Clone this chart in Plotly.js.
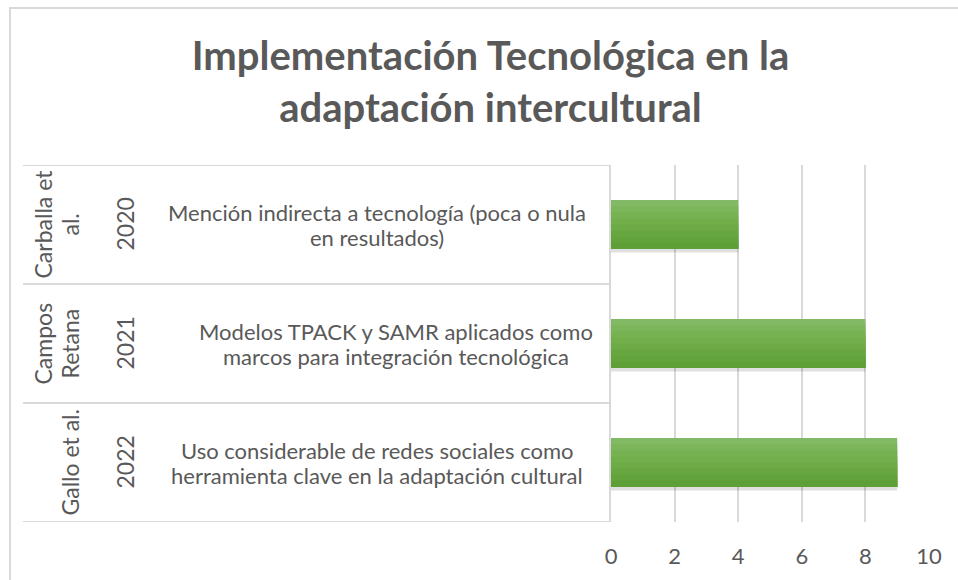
<!DOCTYPE html>
<html>
<head>
<meta charset="utf-8">
<script src="https://cdn.plot.ly/plotly-3.0.1.min.js"></script>
<style>
  html, body { margin: 0; padding: 0; background: #fff; }
  #wrap { position: relative; width: 958px; height: 580px; overflow: hidden; }
  #chart { width: 958px; height: 580px; }
  #frame { position: absolute; left: 9px; top: 7px; width: 1000px; height: 1000px;
           border-left: 2px solid #d9d9d9; border-top: 2px solid #d9d9d9; pointer-events: none; }
</style>
</head>
<body>
<div id="wrap">
  <div id="chart"></div>
  <div id="frame"></div>
</div>
<script>
// ---- data ----
const authors = ["Carballa et<br>al.", "Campos<br>Retana", "Gallo et al."];
const years = ["2020", "2021", "2022"];
const descriptions = [
  "Mención indirecta a tecnología (poca o nula<br>en resultados)",
  "Modelos TPACK y SAMR aplicados como<br>marcos para integración tecnológica",
  "Uso considerable de redes sociales como<br>herramienta clave en la adaptación cultural"
];
const values = [4, 8, 9];
const xTicks = [0, 2, 4, 6, 8, 10];

// ---- styling ----
const textColor = "#595959";
const gridColor = "#d9d9d9";
const font = "Lato, 'Open Sans', sans-serif";
const idx = values.map((v, i) => i);

const barW = 0.41;
const stripColors = ["#82b964", "#7cb65b", "#76b252", "#71af4a", "#6cab45", "#68a740", "#63a33b", "#5f9f37"];
const strips = stripColors.length;

const traces = [];
// soft shadow under the bars
traces.push({
  type: "bar", orientation: "h", x: values, y: idx,
  width: barW, offset: -barW / 2 + 0.03,
  marker: { color: "rgba(0,0,0,0.12)", line: { width: 0 } },
  hoverinfo: "skip", showlegend: false
});
// vertical gradient built from nested overlaid layers (no seams)
for (let k = 0; k < strips; k++) {
  const w = barW / strips;
  traces.push({
    type: "bar", orientation: "h", x: values, y: idx,
    width: barW - k * w, offset: -barW / 2 + k * w,
    marker: { color: stripColors[k], line: { width: 0 } },
    hoverinfo: k === 0 ? "x" : "skip", showlegend: false
  });
}

// left category table
const annotations = [];
const shapes = [];
const px = p => (p - 611) / 318;   // pixel column -> paper x
const band = 119;                  // pixels per category band
const labFont = { family: font, size: 22, color: textColor };
const rotFont = { family: font, size: 23, color: textColor };

idx.forEach(i => {
  // authors (rotated, lines stacked left->right, last line anchored at right)
  const aLines = authors[i].split("<br>");
  const aLast = 69, aGap = 27;
  aLines.forEach((t, j) => {
    annotations.push({
      xref: "paper", yref: "y", x: px(aLast - (aLines.length - 1 - j) * aGap), y: i, text: t,
      textangle: -90, showarrow: false, xanchor: "center", yanchor: "middle", font: rotFont
    });
  });
  // years (rotated)
  annotations.push({
    xref: "paper", yref: "y", x: px(124), y: i, text: years[i],
    textangle: -90, showarrow: false, xanchor: "center", yanchor: "middle", font: rotFont
  });
  // descriptions (horizontal, centred, two lines)
  const dLines = descriptions[i].split("<br>");
  const cx = i === 1 ? 396 : 377, dGap = 25;
  dLines.forEach((t, j) => {
    const off = (j - (dLines.length - 1) / 2) * dGap / band;
    annotations.push({
      xref: "paper", yref: "y", x: px(cx), y: i + off, text: t,
      showarrow: false, xanchor: "center", yanchor: "middle", font: labFont
    });
  });
});
for (let b = -0.5; b <= values.length - 0.5; b += 1) {
  shapes.push({
    type: "line", xref: "paper", yref: "y", x0: px(23), x1: 0, y0: b, y1: b,
    line: { color: gridColor, width: 2 }
  });
}

const layout = {
  width: 958, height: 580,
  margin: { l: 611, r: 29, t: 165, b: 58 },
  paper_bgcolor: "#ffffff", plot_bgcolor: "#ffffff",
  barmode: "overlay",
  title: {
    text: "<b>Implementación Tecnológica en la<br>adaptación intercultural</b>",
    xref: "container", x: 0.512, xanchor: "center",
    yref: "container", y: 1 - 70 / 580, yanchor: "middle",
    font: { family: font, size: 40, color: textColor }
  },
  xaxis: {
    range: [0, 10], tickvals: xTicks, ticktext: xTicks.map(String),
    showgrid: true, gridcolor: gridColor, gridwidth: 2,
    zeroline: false, showline: false, ticks: "",
    ticklabelstandoff: 19,
    tickfont: { family: font, size: 22, color: textColor },
    fixedrange: true
  },
  yaxis: {
    range: [values.length - 0.5, -0.5], showticklabels: false,
    showgrid: false, zeroline: false, showline: true, linecolor: gridColor, linewidth: 2,
    ticks: "", fixedrange: true
  },
  shapes: shapes,
  annotations: annotations,
  showlegend: false
};

Plotly.newPlot("chart", traces, layout, { displayModeBar: false, staticPlot: true });
</script>
</body>
</html>
